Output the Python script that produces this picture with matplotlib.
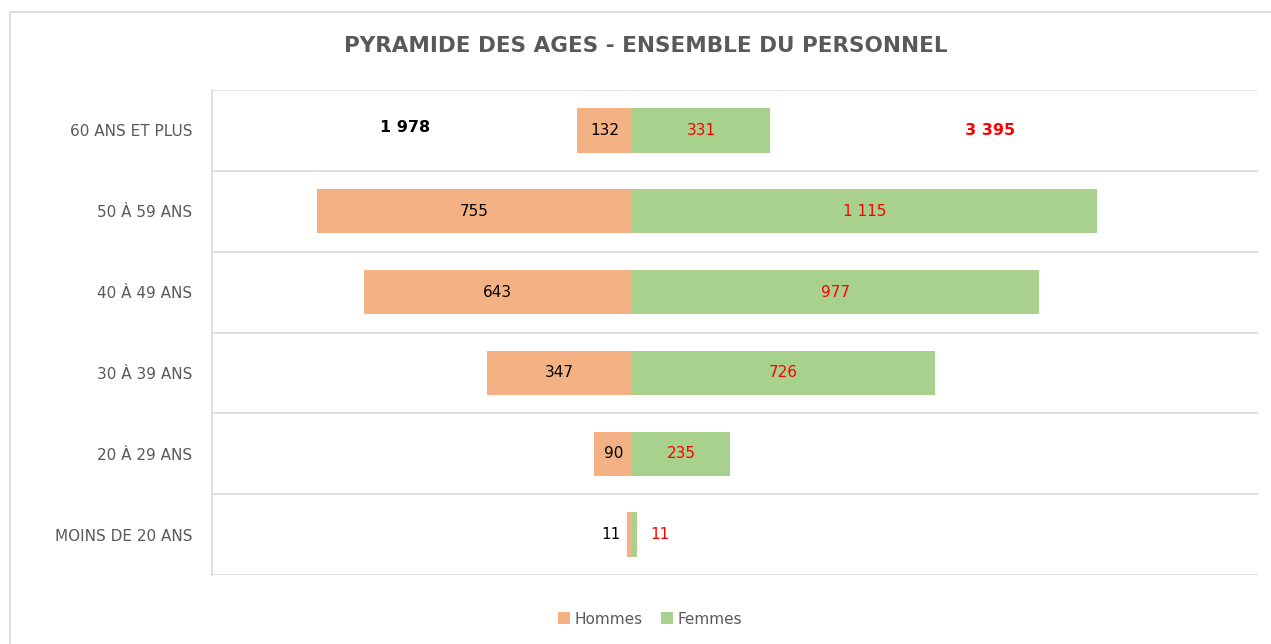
import matplotlib.pyplot as plt
import numpy as np
from matplotlib.patches import Rectangle

# data
tranches = ['60 ANS ET PLUS', '50 À 59 ANS', '40 À 49 ANS',
            '30 À 39 ANS', '20 À 29 ANS', 'MOINS DE 20 ANS']
hommes = [132, 755, 643, 347, 90, 11]
femmes = [331, 1115, 977, 726, 235, 11]


def fmt(v):
    return f'{v:,}'.replace(',', ' ')


c_h = '#F4B183'
c_f = '#A9D18E'
grey = '#595959'

fig = plt.figure(figsize=(12.71, 6.44), dpi=100)
ax = fig.add_axes([212 / 1271, 1 - 575 / 644, 1046 / 1271, 485 / 644])

# outer frame of the chart area
fig.patches.append(Rectangle((10 / 1271, -0.01), 1.1, 1 - 12 / 644 + 0.01,
                             transform=fig.transFigure, fill=False,
                             edgecolor='#d9d9d9', linewidth=1.2))

y = np.arange(len(tranches))
h = np.array(hommes)
f = np.array(femmes)

ax.barh(y, -h, height=0.55, color=c_h, label='Hommes')
ax.barh(y, f, height=0.55, color=c_f, label='Femmes')

for i in range(len(tranches)):
    if h[i] > 50:
        ax.text(-h[i] / 2, y[i], fmt(h[i]), ha='center', va='center',
                fontsize=11, color='black')
        ax.text(f[i] / 2, y[i], fmt(f[i]), ha='center', va='center',
                fontsize=11, color='#FF0000')
    else:
        ax.text(-h[i] - 40, y[i], fmt(h[i]), ha='center', va='center',
                fontsize=11, color='black')
        ax.text(f[i] + 55, y[i], fmt(f[i]), ha='center', va='center',
                fontsize=11, color='#FF0000')

# totals
ax.text(-544, -0.04, fmt(h.sum()), ha='center', va='center', fontsize=11.5,
        fontweight='bold', color='black')
ax.text(858, 0, fmt(f.sum()), ha='center', va='center', fontsize=11.5,
        fontweight='bold', color='#FF0000')

ax.set_xlim(-1007, 1501)
ax.set_ylim(len(tranches) - 0.5, -0.5)
ax.set_xticks([])
ax.set_yticks(y)
ax.set_yticklabels(tranches, fontsize=11, color=grey)
ax.tick_params(axis='y', length=0, pad=14)
for k in np.arange(-0.5, len(tranches), 1):
    ax.axhline(k, color='#d9d9d9', linewidth=1.2, zorder=0)
for s in ['top', 'right', 'bottom']:
    ax.spines[s].set_visible(False)
ax.spines['left'].set_color('#d9d9d9')
ax.spines['left'].set_linewidth(1.2)

fig.text(646 / 1271, 1 - 46 / 644, 'PYRAMIDE DES AGES - ENSEMBLE DU PERSONNEL',
         ha='center', va='center', fontsize=15.5, fontweight='bold', color=grey)

fig.legend(loc='center', bbox_to_anchor=(650 / 1271, 1 - 619 / 644), ncol=2,
           frameon=False, fontsize=11, handlelength=0.8, handleheight=0.8,
           columnspacing=1.2, handletextpad=0.3, labelcolor=grey)

fig.savefig('out.png', dpi=100)
